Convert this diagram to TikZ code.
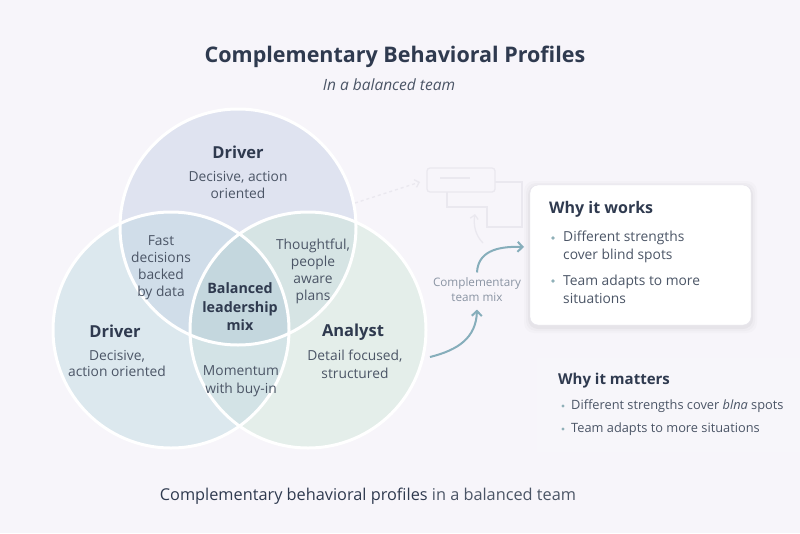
\documentclass[tikz,border=0pt]{standalone}
\usepackage{fontspec}
\setmainfont{Open Sans}
\usetikzlibrary{arrows.meta}
\definecolor{bgc}{HTML}{F7F5FA}
\definecolor{ink}{HTML}{2F3A4F}
\definecolor{txt}{HTML}{4B5566}
\definecolor{soft}{HTML}{8A94A3}
\definecolor{flowc}{HTML}{86AEBB}
\definecolor{bulc}{HTML}{8FB0B8}
\definecolor{ghost}{HTML}{EAE8EF}
\definecolor{boxline}{HTML}{E6E4EC}
\definecolor{ctop}{HTML}{DFE3F0}
\definecolor{cleft}{HTML}{DCE8EE}
\definecolor{cright}{HTML}{E4EEEA}
\definecolor{ctl}{HTML}{D0DDE9}
\definecolor{ctr}{HTML}{D6E4E4}
\definecolor{clr}{HTML}{D3E3E6}
\definecolor{cmid}{HTML}{C4D7DE}
\tikzset{
  head/.style={font=\fontsize{16.5}{20}\selectfont\bfseries, text=ink},
  body/.style={font=\fontsize{13.8}{17}\selectfont, text=txt, align=center},
  listtext/.style={font=\fontsize{13.8}{17.5}\selectfont, text=txt, align=left, anchor=west, inner sep=0pt},
  flow/.style={draw=flowc, line width=2pt, -{Straight Barb[length=5pt,width=10pt]}},
  ghostline/.style={draw=ghost, line width=1.3pt},
}
\begin{document}
\begin{tikzpicture}[x=1pt,y=-1pt]
\fill[bgc] (0,0) rectangle (800,533);
\useasboundingbox (0,0) rectangle (800,533);
% title
\node[font=\fontsize{21.5}{26}\selectfont\bfseries, text=ink] (title) at (395,57) {Complementary Behavioral Profiles};
\node[font=\fontsize{15.5}{18}\selectfont\itshape, text=txt] (subtitle) at (389,85) {In a balanced team};
% venn circles
\coordinate (ct) at (238,227);
\coordinate (cl) at (171,330);
\coordinate (cr) at (308,330);
\fill[cleft] (cl) circle (118pt);
\fill[cright] (cr) circle (118pt);
\fill[ctop] (ct) circle (118pt);
\begin{scope}
\clip (ct) circle (118pt);
\fill[ctl] (cl) circle (118pt);
\fill[ctr] (cr) circle (118pt);
\end{scope}
\begin{scope}
\clip (cl) circle (118pt);
\fill[clr] (cr) circle (118pt);
\clip (cr) circle (118pt);
\fill[cmid] (ct) circle (118pt);
\end{scope}
\foreach \c in {ct,cl,cr} \draw[white, line width=3pt] (\c) circle (118pt);
% venn labels
\node[head] (drvtop) at (238,152) {Driver};
\node[body] (drvtopd) at (238,185) {Decisive, action\\oriented};
\node[body] (fast) at (161,268) {Fast\\decisions\\backed\\by data};
\node[body] (thought) at (313,271) {Thoughtful,\\people\\aware\\plans};
\node[body, font=\fontsize{14.3}{18.5}\selectfont\bfseries, text=ink] (mix) at (240,307) {Balanced\\leadership\\mix};
\node[head] (drvleft) at (115,331) {Driver};
\node[body, font=\fontsize{13.8}{16}\selectfont] (drvleftd) at (117,363) {Decisive,\\action oriented};
\node[head] (analyst) at (353,332) {Analyst};
\node[body, font=\fontsize{13.8}{18}\selectfont] (analystd) at (355,364) {Detail focused,\\structured};
\node[body, font=\fontsize{13.8}{18}\selectfont] (momentum) at (241,381) {Momentum\\with buy-in};
% faint sketch behind the box
\draw[ghostline, rounded corners=3pt] (427,168) rectangle (495,192);
\draw[ghostline] (440,178) -- (470,178);
\draw[ghostline] (447,192) -- (447,207) -- (487,207) -- (487,227) -- (523,227);
\draw[ghostline] (495,182) -- (522,182) -- (522,227);
\draw[ghostline, dashed, -{Straight Barb[length=4pt]}] (355,203) -- (420,182);
\draw[ghostline, -{Straight Barb[length=4pt]}] (483,243) .. controls (476,236) and (473,226) .. (475,214);
% why it works
\foreach \s/\o in {6/0.015,4/0.02,2/0.03}
  \fill[black, opacity=\o, rounded corners=10pt] (530-\s,187-\s) rectangle (751+\s,327+\s);
\node[draw=boxline, fill=white, rounded corners=8pt, minimum width=221pt, minimum height=140pt] (works) at (640.5,255) {};
\node[head, font=\fontsize{16}{19}\selectfont\bfseries, anchor=west, inner sep=0pt] (workshd) at (549,209) {Why it works};
\fill[bulc] (553,238) circle (1.8pt);
\node[listtext] (worksa) at (563,247) {Different strengths\\cover blind spots};
\fill[bulc] (553,281) circle (1.8pt);
\node[listtext] (worksb) at (563,289.5) {Team adapts to more\\situations};
% complementary mix arrows
\node[font=\fontsize{11.7}{15}\selectfont, text=soft, align=center] (mixlbl) at (477,290) {Complementary\\team mix};
\coordinate (arrA) at (430,357);
\coordinate (arrB) at (524,247);
\draw[flow] (arrA) .. controls (458,350) and (476,338) .. ([yshift=-4pt]mixlbl.south);
\draw[flow] ([yshift=2pt]mixlbl.north) .. controls (478,252) and (496,246) .. (arrB);
% why it matters
\fill[white, opacity=0.12] (537,358) rectangle (800,452);
\node[head, font=\fontsize{15}{18}\selectfont\bfseries, anchor=west, inner sep=0pt] (mattershd) at (558,381) {Why it matters};
\fill[bulc] (563,406) circle (1.7pt);
\node[listtext, font=\fontsize{12.8}{15}\selectfont] (mattersa) at (571,406) {Different strengths cover \textit{blna} spots};
\fill[bulc] (563,429) circle (1.7pt);
\node[listtext, font=\fontsize{12.8}{15}\selectfont] (mattersb) at (571,429) {Team adapts to more situations};
% caption
\node[font=\fontsize{16.3}{19}\selectfont] (caption) at (368,496) {\textcolor{ink}{Complementary behavioral profiles} \textcolor{txt}{in a balanced team}};
\end{tikzpicture}
\end{document}
